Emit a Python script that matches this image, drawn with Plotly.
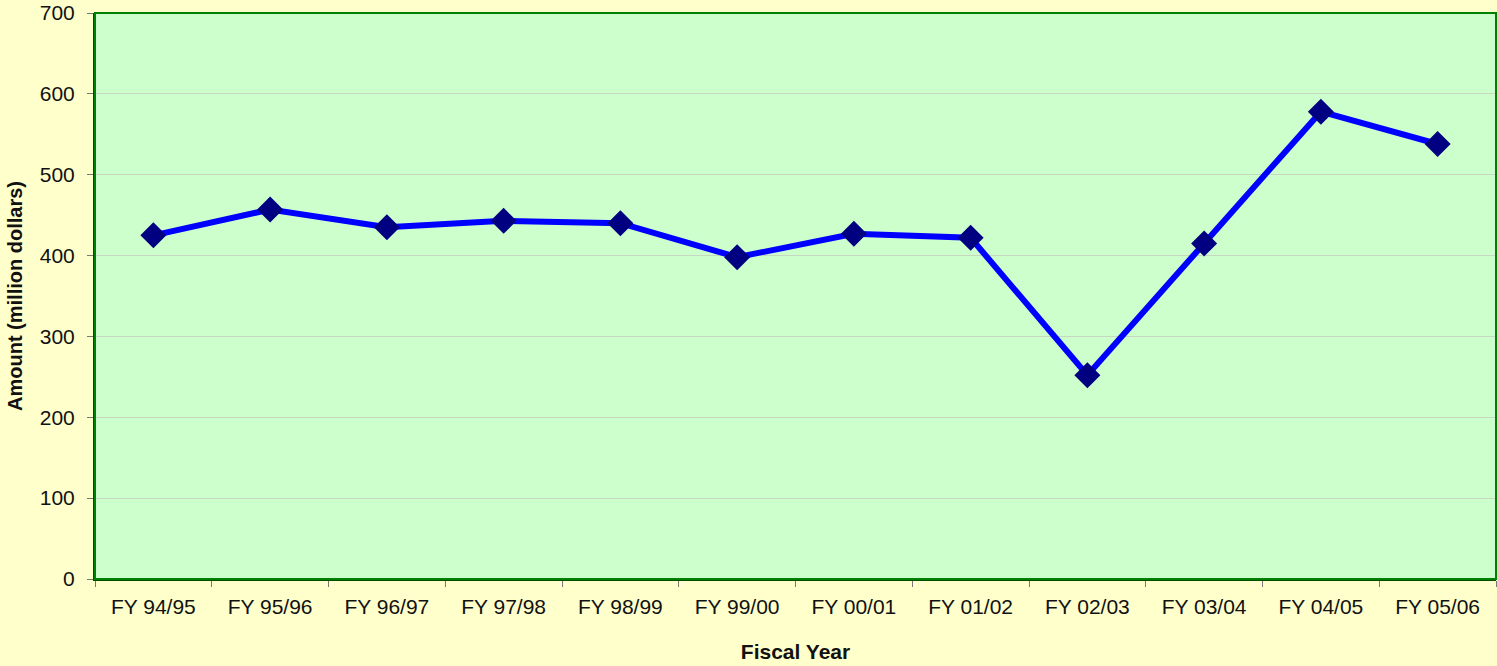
import plotly.graph_objects as go

fiscal_years = ["FY 94/95", "FY 95/96", "FY 96/97", "FY 97/98", "FY 98/99", "FY 99/00",
                "FY 00/01", "FY 01/02", "FY 02/03", "FY 03/04", "FY 04/05", "FY 05/06"]
amounts = [425, 457, 435, 443, 440, 398, 427, 422, 252, 415, 578, 538]
y_ticks = [0, 100, 200, 300, 400, 500, 600, 700]

fig = go.Figure()
fig.add_trace(go.Scatter(
    x=fiscal_years, y=amounts, mode="lines+markers",
    line=dict(color="#0000FF", width=6),
    marker=dict(symbol="diamond", size=20, color="#000080"),
    showlegend=False,
))

fig.update_layout(
    width=1497, height=666,
    margin=dict(l=95, r=1, t=13, b=87),
    paper_bgcolor="#FFFFCC",
    plot_bgcolor="#CCFFCC",
    font=dict(family="Liberation Sans, Arial, sans-serif", size=21, color="#111111"),
    shapes=[dict(type="rect", xref="paper", yref="paper", x0=0, y0=0, x1=1, y1=1,
                 line=dict(color="#008000", width=2), layer="above")],
)
fig.update_xaxes(
    range=[-0.5, len(fiscal_years) - 0.5],
    tickson="boundaries", ticks="outside", ticklen=6, tickcolor="#777777",
    ticklabelstandoff=8,
    showline=True, linecolor="#004D00", linewidth=2,
    showgrid=False,
    title=dict(text="<b>Fiscal Year</b>", font=dict(size=21), standoff=27),
)
fig.update_yaxes(
    range=[0, 700], tickvals=y_ticks, ticks="outside", ticklen=6, tickcolor="#777777",
    ticklabelstandoff=8,
    showline=True, linecolor="#004D00", linewidth=2,
    gridcolor="#C8D8C0", gridwidth=1, zeroline=False,
    title=dict(text="<b>Amount (million dollars)</b>", font=dict(size=20), standoff=12),
)

fig.write_html("out.html", config={"displayModeBar": False},
               post_script="document.body.style.margin='0';")
